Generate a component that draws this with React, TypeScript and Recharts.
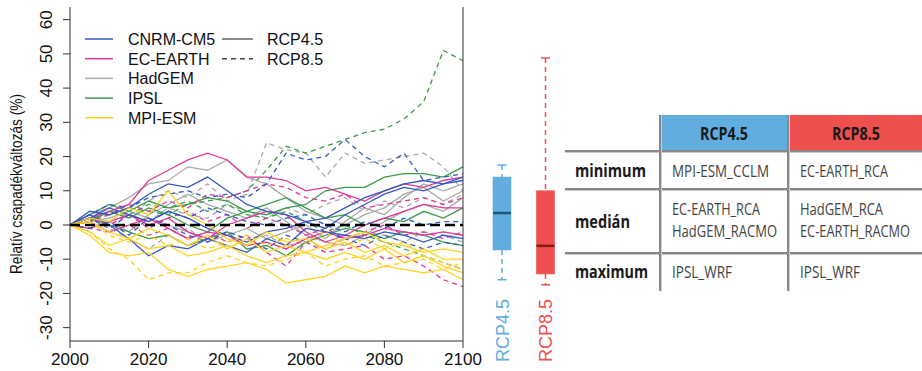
import { Bar, ComposedChart, Line, LineChart, ReferenceLine, XAxis, YAxis } from "recharts";

// years sampled every 5 years
const years = [2000, 2005, 2010, 2015, 2020, 2025, 2030, 2035, 2040, 2045, 2050, 2055, 2060, 2065, 2070, 2075, 2080, 2085, 2090, 2095, 2100];

// RCP4.5 runs (solid)
const cnrm45a = [0, 4, 3, 5, 9, 12, 11, 14, 10, 6, 4, 3, 1, 2, 5, 8, 10, 12, 13, 12, 14];
const cnrm45b = [0, 3, 0, -4, -9, -6, -7, -4, -6, -8, -4, -6, -1, -2, -3, -4, -2, -3, -5, -3, -4];
const cnrm45c = [0, 2, 5, 3, 1, 4, 2, -1, -3, -5, -2, -1, 1, -1, 3, 6, 9, 11, 10, 12, 13];
const ece45a = [0, 2, 4, 6, 13, 16, 19, 21, 19, 14, 14, 13, 10, 11, 9, 7, 10, 12, 11, 13, 14];
const ece45b = [0, -1, 1, 3, 0, 2, -2, -4, 0, 2, 4, 3, -2, -5, -3, 0, 2, 4, 6, 5, 5];
const ece45c = [0, 1, -2, 0, 2, -1, -4, -2, -3, -6, -5, -7, -4, -2, -4, -3, -1, -2, -3, -2, -3];
const had45a = [0, 3, 5, 8, 12, 13, 17, 16, 19, 14, 12, 8, 4, 2, 0, 3, 5, 9, 11, 7, 10];
const had45b = [0, 1, 2, 4, 2, 0, -2, -5, -3, -1, -4, -2, 0, -4, 1, 5, 3, 8, 12, 10, 12];
const had45c = [0, 2, 1, -2, 3, 6, 9, 6, 4, 2, 5, 1, -3, -5, -6, -3, 1, 4, 6, 4, 8];
const ipsl45a = [0, 3, 6, 4, 7, 5, 6, 8, 7, 4, 3, 5, 6, 10, 11, 11, 14, 15, 15, 14, 17];
const ipsl45b = [0, 2, 0, -2, -4, -3, -6, -4, -2, -7, -6, -9, -5, -3, -1, -2, -4, -2, -3, -5, -6];
const ipsl45c = [0, 1, 4, 2, 5, 3, 0, -2, 2, 4, 6, 8, 5, 2, 3, 0, 2, 1, 4, 2, 5];
const mpi45a = [0, -3, -8, -9, -8, -13, -15, -13, -12, -11, -13, -17, -16, -15, -12, -14, -12, -13, -14, -13, -16];
const mpi45b = [0, -2, -6, -4, -7, -6, -9, -8, -6, -9, -11, -9, -8, -10, -8, -10, -7, -11, -9, -12, -14];
const mpi45c = [0, 2, 1, 5, 3, 10, 3, 0, -4, -6, -2, -5, -4, -7, -5, -8, -6, -9, -7, -10, -10];
const mpi45d = [0, 1, -2, -4, -1, -3, -6, -3, -7, -4, -8, -6, -8, -6, -4, -2, -5, -6, -8, -7, -8];

// RCP8.5 runs (dashed)
const cnrm85a = [0, 3, 6, 5, 8, 9, 10, 8, 9, 8, 12, 21, 19, 20, 25, 20, 17, 21, 13, 14, 15];
const cnrm85b = [0, 2, -1, 3, 1, 4, 2, 5, 3, 1, 0, 2, 3, 0, -2, 1, -1, 2, 0, 1, 1];
const cnrm85c = [0, -1, 1, -3, 2, 0, -3, -5, -2, -4, -7, -3, -5, -2, -4, -6, -3, -5, -7, -5, -6];
const ece85a = [0, 1, 3, 6, 4, 7, 5, 9, 8, 10, 12, 11, 8, 7, 9, 5, 6, 7, 8, 6, 8];
const ece85b = [0, -1, -2, 0, -3, -1, -4, -2, -5, -3, -8, -12, -5, -8, -7, -6, -10, -9, -12, -16, -18];
const ece85c = [0, 2, 0, 3, -1, 2, 4, 1, 3, -1, 2, 0, -3, -1, -4, -2, 0, -3, -2, -4, -2];
const had85a = [0, 1, 4, 2, 7, 10, 8, 12, 7, 9, 24, 22, 21, 14, 21, 18, 19, 20, 21, 17, 10];
const had85b = [0, 2, -1, -4, -7, -3, -1, -5, -2, -4, -3, -6, -5, -7, -4, -2, -3, -5, -2, -3, -5];
const had85c = [0, -1, 1, 3, 1, 5, 3, 2, 6, 4, 2, 5, 3, 6, 8, 4, 7, 5, 8, 6, 9];
const ipsl85a = [0, 2, 3, 5, 4, 3, 6, 7, 8, 10, 16, 23, 21, 23, 25, 27, 28, 31, 36, 51, 48];
const ipsl85b = [0, 1, 4, 3, 6, 5, 7, 4, 6, 3, 2, 4, 1, -2, 0, -3, -5, -7, -9, -11, -13];
const mpi85a = [0, -2, -7, -10, -16, -14, -14, -11, -9, -11, -12, -10, -8, -12, -10, -9, -12, -11, -10, -13, -11];
const mpi85b = [0, 1, -3, -5, -3, -6, -4, -7, -5, -3, -6, -4, -5, -2, -6, -4, -7, -5, -9, -11, -13];

const modelNames = ["CNRM-CM5", "EC-EARTH", "HadGEM", "IPSL", "MPI-ESM"];
const modelColors = ["#3558c4", "#e0379a", "#aaaaaa", "#3a9b4a", "#ffd21f"];

const yTicks = [-30, -20, -10, 0, 10, 20, 30, 40, 50, 60];
const xTicks = [2000, 2020, 2040, 2060, 2080, 2100];
const yDomain = [-33.9, 63.7];

// box plot summary (2071-2100)
const scenarios = ["RCP4.5", "RCP8.5"];
const whiskerLow = [-16, -17.5];
const boxLow = [-7.3, -14.3];
const boxMedian = [3.5, -6.1];
const boxHigh = [14, 10];
const whiskerHigh = [17.5, 48.8];
const scenarioColors = ["#62ade0", "#ee4f4f"];
const medianColors = ["#1f5578", "#8a1818"];

// table
const rowLabels = ["minimum", "medián", "maximum"];
const rcp45Cells = [["MPI-ESM_CCLM"], ["EC-EARTH_RCA", "HadGEM_RACMO"], ["IPSL_WRF"]];
const rcp85Cells = [["EC-EARTH_RCA"], ["HadGEM_RCA", "EC-EARTH_RACMO"], ["IPSL_WRF"]];
const cellWidths: Record<string, number> = {
  "MPI-ESM_CCLM": 97,
  "EC-EARTH_RCA": 88,
  "HadGEM_RACMO": 105,
  "HadGEM_RCA": 83,
  "EC-EARTH_RACMO": 110,
  "IPSL_WRF": 60,
};

const series = [
  { key: "had45a", model: 2, dashed: false, values: had45a },
  { key: "had45b", model: 2, dashed: false, values: had45b },
  { key: "had45c", model: 2, dashed: false, values: had45c },
  { key: "had85a", model: 2, dashed: true, values: had85a },
  { key: "had85b", model: 2, dashed: true, values: had85b },
  { key: "had85c", model: 2, dashed: true, values: had85c },
  { key: "ipsl45a", model: 3, dashed: false, values: ipsl45a },
  { key: "ipsl45b", model: 3, dashed: false, values: ipsl45b },
  { key: "ipsl45c", model: 3, dashed: false, values: ipsl45c },
  { key: "ipsl85a", model: 3, dashed: true, values: ipsl85a },
  { key: "ipsl85b", model: 3, dashed: true, values: ipsl85b },
  { key: "ece45a", model: 1, dashed: false, values: ece45a },
  { key: "ece45b", model: 1, dashed: false, values: ece45b },
  { key: "ece45c", model: 1, dashed: false, values: ece45c },
  { key: "ece85a", model: 1, dashed: true, values: ece85a },
  { key: "ece85b", model: 1, dashed: true, values: ece85b },
  { key: "ece85c", model: 1, dashed: true, values: ece85c },
  { key: "cnrm45a", model: 0, dashed: false, values: cnrm45a },
  { key: "cnrm45b", model: 0, dashed: false, values: cnrm45b },
  { key: "cnrm45c", model: 0, dashed: false, values: cnrm45c },
  { key: "cnrm85a", model: 0, dashed: true, values: cnrm85a },
  { key: "cnrm85b", model: 0, dashed: true, values: cnrm85b },
  { key: "cnrm85c", model: 0, dashed: true, values: cnrm85c },
  { key: "mpi45a", model: 4, dashed: false, values: mpi45a },
  { key: "mpi45b", model: 4, dashed: false, values: mpi45b },
  { key: "mpi45c", model: 4, dashed: false, values: mpi45c },
  { key: "mpi45d", model: 4, dashed: false, values: mpi45d },
  { key: "mpi85a", model: 4, dashed: true, values: mpi85a },
  { key: "mpi85b", model: 4, dashed: true, values: mpi85b },
];

const lineData = years.map((year, i) => {
  const row: Record<string, number> = { year };
  series.forEach((s) => {
    row[s.key] = s.values[i];
  });
  return row;
});

const boxData = scenarios.map((name, i) => ({
  name,
  range: [whiskerLow[i], whiskerHigh[i]],
  wLow: whiskerLow[i],
  q1: boxLow[i],
  med: boxMedian[i],
  q3: boxHigh[i],
  wHigh: whiskerHigh[i],
  idx: i,
}));

const FONT = "'Liberation Sans', Arial, sans-serif";
const TABLE_FONT = "'Open Sans', 'Noto Sans', sans-serif";

function YTick({ y, payload }: any) {
  return (
    <text x={52} y={y} transform={`rotate(-90, 52, ${y})`} textAnchor="middle" fontSize={17} fill="#111" fontFamily={FONT}>
      {payload.value}
    </text>
  );
}

function XTick({ x, payload }: any) {
  return (
    <text x={x} y={365} textAnchor="middle" fontSize={17} fill="#111" fontFamily={FONT}>
      {payload.value}
    </text>
  );
}

function ScenarioTick({ x, payload, index }: any) {
  const bx = x + 7;
  return (
    <text
      x={bx}
      y={362}
      transform={`rotate(-90, ${bx}, 362)`}
      textAnchor="start"
      fontSize={18}
      fill={scenarioColors[index]}
      fontFamily={FONT}
    >
      {payload.value}
    </text>
  );
}

function BoxShape(props: any) {
  const { x, y, width, height, payload } = props;
  const top = Math.min(y, y + height);
  const h = Math.abs(height);
  const lo = payload.wLow;
  const hi = payload.wHigh;
  const py = (v: number) => top + ((hi - v) / (hi - lo)) * h;
  const cx = x + width / 2;
  const col = scenarioColors[payload.idx];
  return (
    <g>
      <line x1={cx} x2={cx} y1={py(hi)} y2={py(payload.q3)} stroke={col} strokeWidth={1.5} strokeDasharray="5 4" />
      <line x1={cx} x2={cx} y1={py(payload.q1)} y2={py(lo)} stroke={col} strokeWidth={1.5} strokeDasharray="5 4" />
      <line x1={cx - 4.5} x2={cx + 4.5} y1={py(hi)} y2={py(hi)} stroke={col} strokeWidth={1.5} />
      <line x1={cx - 4.5} x2={cx + 4.5} y1={py(lo)} y2={py(lo)} stroke={col} strokeWidth={1.5} />
      <rect
        x={x}
        y={py(payload.q3)}
        width={width}
        height={py(payload.q1) - py(payload.q3)}
        fill={col}
        stroke={col}
        strokeOpacity={0.6}
      />
      <line x1={x} x2={x + width} y1={py(payload.med)} y2={py(payload.med)} stroke={medianColors[payload.idx]} strokeWidth={2.5} />
    </g>
  );
}

function ModelLegend() {
  return (
    <svg width={340} height={140} style={{ position: "absolute", left: 0, top: 0 }}>
      {modelNames.map((name, i) => {
        const base = 45 + i * 19.7;
        return (
          <g key={name}>
            <line x1={85} x2={113} y1={base - 6} y2={base - 6} stroke={modelColors[i]} strokeWidth={1.5} />
            <text x={128} y={base} fontSize={16} fill="#111" fontFamily={FONT}>
              {name}
            </text>
          </g>
        );
      })}
      <line x1={222} x2={253} y1={39} y2={39} stroke="#666" strokeWidth={1.5} />
      <text x={267} y={45} fontSize={16} fill="#111" fontFamily={FONT}>RCP4.5</text>
      <line x1={222} x2={253} y1={58.7} y2={58.7} stroke="#444" strokeWidth={1.5} strokeDasharray="5 4" />
      <text x={267} y={64.7} fontSize={16} fill="#111" fontFamily={FONT}>RCP8.5</text>
    </svg>
  );
}

function ScenarioTable() {
  const cellText = (lines: string[], x: number, rowIdx: number) => {
    const bases = rowIdx === 1 ? [215, 237] : [rowIdx === 0 ? 177 : 278];
    return lines.map((t, j) => (
      <text key={t} x={x} y={bases[j]} fontSize={17} fill="#444" fontWeight={400} fontFamily={TABLE_FONT}
        textLength={cellWidths[t]} lengthAdjust="spacingAndGlyphs">
        {t}
      </text>
    ));
  };
  const labelBases = [177, 228, 278];
  const labelWidths = [71, 55, 73];
  return (
    <svg width={922} height={371} style={{ position: "absolute", left: 0, top: 0 }}>
      <rect x={661} y={115} width={126} height={35} fill={scenarioColors[0]} />
      <rect x={789} y={115} width={133} height={35} fill={scenarioColors[1]} />
      <text x={724} y={140} textAnchor="middle" fontSize={18} fontWeight={700} fill="#1a1a1a" fontFamily={TABLE_FONT}
        textLength={48} lengthAdjust="spacingAndGlyphs">RCP4.5</text>
      <text x={856} y={140} textAnchor="middle" fontSize={18} fontWeight={700} fill="#1a1a1a" fontFamily={TABLE_FONT}
        textLength={48} lengthAdjust="spacingAndGlyphs">RCP8.5</text>
      {[151, 189, 253].map((y) => (
        <g key={y}>
          <line x1={565} x2={922} y1={y} y2={y} stroke="#888" strokeWidth={2} />
          <line x1={565} x2={922} y1={y + 1.5} y2={y + 1.5} stroke="#ccc" strokeWidth={1} />
        </g>
      ))}
      {[660, 788].map((x) => (
        <g key={x}>
          <line x1={x} x2={x} y1={115} y2={291} stroke="#888" strokeWidth={2} />
          <line x1={x + 1.5} x2={x + 1.5} y1={115} y2={291} stroke="#ccc" strokeWidth={1} />
        </g>
      ))}
      {rowLabels.map((lab, i) => (
        <text key={lab} x={575} y={labelBases[i]} fontSize={17} fontWeight={700} fill="#1a1a1a" fontFamily={TABLE_FONT}
          textLength={labelWidths[i]} lengthAdjust="spacingAndGlyphs">
          {lab}
        </text>
      ))}
      {rcp45Cells.map((lines, i) => cellText(lines, 672, i))}
      {rcp85Cells.map((lines, i) => cellText(lines, 800, i))}
    </svg>
  );
}

export default function App() {
  return (
    <div style={{ position: "absolute", left: 0, top: 0, width: 922, height: 371, background: "#fff", fontFamily: FONT }}>
      <div style={{ position: "absolute", left: 0, top: 0 }}>
        <LineChart width={490} height={371} data={lineData} margin={{ top: 7, right: 17, bottom: 0, left: 0 }}>
          <XAxis
            dataKey="year"
            type="number"
            domain={[2000, 2100]}
            ticks={xTicks}
            tick={<XTick />}
            tickSize={7}
            height={30}
            axisLine={{ stroke: "#333" }}
            tickLine={{ stroke: "#333" }}
          />
          <XAxis xAxisId="top" orientation="top" dataKey="year" type="number" domain={[2000, 2100]} height={0} tick={false} tickLine={false} axisLine={{ stroke: "#333" }} />
          <YAxis
            type="number"
            domain={yDomain}
            ticks={yTicks}
            width={70}
            tickSize={7}
            tick={<YTick />}
            axisLine={{ stroke: "#333" }}
            tickLine={{ stroke: "#333" }}
            allowDataOverflow
            label={{
              value: "Relatív csapadékváltozás (%)",
              angle: -90,
              position: "insideLeft",
              content: () => (
                <text x={22} y={184} transform="rotate(-90, 22, 184)" textAnchor="middle" fontSize={16} fill="#111" fontFamily={FONT}
                  textLength={180} lengthAdjust="spacingAndGlyphs">
                  Relatív csapadékváltozás (%)
                </text>
              ),
            }}
          />
          <YAxis
            yAxisId="right"
            orientation="right"
            type="number"
            domain={yDomain}
            ticks={yTicks}
            width={10}
            tickSize={7}
            tick={false}
            axisLine={{ stroke: "#333" }}
            tickLine={{ stroke: "#333" }}
            allowDataOverflow
          />
          {series.map((s) => (
            <Line
              key={s.key}
              dataKey={s.key}
              type="linear"
              stroke={modelColors[s.model]}
              strokeWidth={1.3}
              strokeDasharray={s.dashed ? "5 4" : undefined}
              dot={false}
              activeDot={false}
              isAnimationActive={false}
            />
          ))}
          <ReferenceLine y={0} stroke="#000" strokeWidth={2.5} strokeDasharray="10 5" />
        </LineChart>
      </div>
      <ModelLegend />
      <div style={{ position: "absolute", left: 480, top: 0 }}>
        <ComposedChart width={87} height={371} data={boxData} margin={{ top: 7, right: 0, bottom: 0, left: 0 }}>
          <XAxis dataKey="name" type="category" height={30} axisLine={false} tickLine={false} tick={<ScenarioTick />} interval={0} />
          <YAxis type="number" domain={yDomain} hide allowDataOverflow />
          <Bar dataKey="range" barSize={18} shape={<BoxShape />} isAnimationActive={false} />
        </ComposedChart>
      </div>
      <ScenarioTable />
    </div>
  );
}
